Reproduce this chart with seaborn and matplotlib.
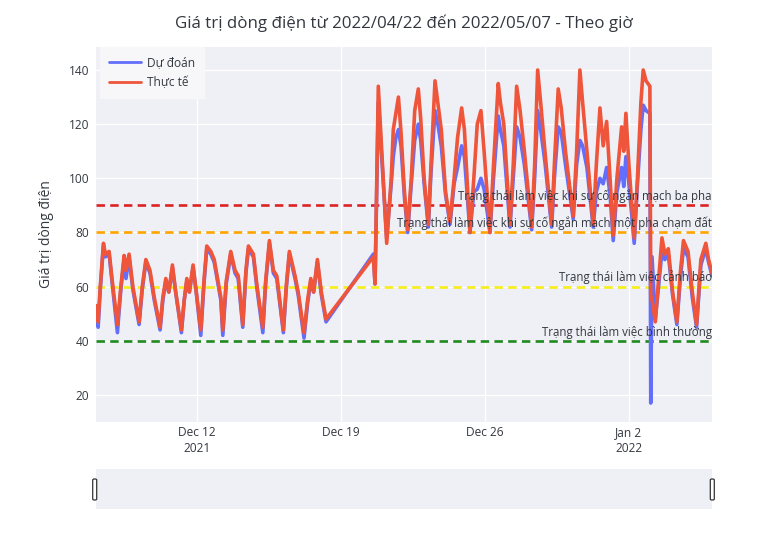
import numpy as np
import pandas as pd
import matplotlib
matplotlib.use("Agg")
import matplotlib.pyplot as plt
import matplotlib.dates as mdates
from matplotlib.patches import FancyBboxPatch
import seaborn as sns

# ---------------- data ----------------
start_time = "2021-12-07 00:00"
hours = [2, 4.5, 7, 10.7, 13, 17.3, 21, 27, 31, 34.8, 37, 40.6, 45, 52.3, 56, 60.2, 65, 70, 76.8, 80,
         83.5, 87, 91.2, 95, 101.7, 105, 108, 111, 115.3, 119, 124.3, 128, 131.3, 136, 140, 147.7, 150, 154,
         159.3, 164.3, 168, 173.3, 177, 179.9, 185.7, 190, 196.7, 200, 204.4, 209, 213, 220.7, 224, 227.7,
         234.3, 238, 244.8, 249, 252.7, 256, 260.4, 265, 270.5, 325.7, 327.7, 331.5, 341.3, 346.6, 349, 352,
         355, 358, 362, 365.8, 370, 374, 378.2, 381, 385, 389.9, 393, 397.7, 401, 405, 410, 415.2, 420, 424,
         428.8, 432, 438.5, 443, 447, 451.3, 455, 461.8, 466, 471.5, 474, 478, 485.2, 489, 493, 497, 502,
         510.5, 514, 517.5, 521, 526, 533.8, 537, 541.5, 545, 550, 559, 563, 566.8, 570, 575, 582.3, 586,
         590.2, 594, 598, 602, 605.7, 610, 615.5, 618, 620.5, 624, 630.2, 634, 638, 640.7, 644, 648.5, 649.5,
         651, 654.8, 658, 662.6, 666, 670, 675, 680, 684, 687.7, 693, 698, 703, 708, 713.8, 717, 721]
actual = [53, 47, 60, 76, 72, 73, 62, 46, 60, 71.5, 66, 72, 60, 47, 60, 70, 66, 56, 45, 56,
          63, 58, 68, 58, 44, 55, 63, 58, 68, 58, 44, 62, 75, 73, 70, 56, 44, 62,
          73, 66, 64, 46, 66, 75, 72, 60, 45, 62, 77, 66, 64, 44, 60, 73,
          64, 58, 43, 55, 63, 58, 70, 58, 48, 71, 61, 134, 76, 100, 118, 124,
          130, 117, 95, 81, 100, 125, 133, 122, 100, 83, 105, 136, 128, 118, 95, 84, 100, 115,
          126, 118, 80, 100, 120, 125, 110, 80, 105, 135, 128, 120, 83, 105, 134, 125, 110,
          82, 105, 140, 128, 110, 83, 105, 133, 126, 110, 86, 110, 140, 128, 110, 83, 105,
          126, 112, 121, 100, 79, 100, 119, 110, 124, 105, 78, 100, 128, 140, 136, 134, 57,
          55, 47, 60, 78, 72, 74, 58, 47, 65, 77, 73, 58, 46, 70, 76, 70, 65]
predicted = [52, 45, 59, 75, 71, 72, 61, 43, 59, 70, 63, 71, 59, 46, 59, 69, 65, 55, 44, 55,
             62, 58, 67, 58, 43, 55, 62, 58, 67, 58, 42, 61, 74, 72, 69, 55, 42, 61,
             72, 65, 63, 45, 65, 74, 71, 59, 43, 61, 76, 65, 63, 43, 59, 72,
             63, 57, 41, 54, 62, 58, 69, 57, 47, 72, 61, 128, 78, 98, 108, 115,
             118, 112, 93, 80, 98, 114, 120, 114, 98, 82, 102, 125, 120, 112, 94, 83, 98, 104,
             112, 108, 80, 95, 96, 100, 96, 80, 100, 123, 118, 112, 82, 100, 119, 115, 105,
             81, 100, 125, 118, 106, 82, 100, 119, 117, 105, 85, 105, 114, 112, 104, 82, 95,
             100, 98, 104, 94, 77, 95, 104, 97, 108, 98, 76, 98, 118, 127, 125, 124, 17,
             71, 48, 58, 73, 70, 72, 57, 46, 63, 74, 71, 56, 45, 68, 74, 69, 64]

series_names = ["Dự đoán", "Thực tế"]
series_colors = ["#636EFA", "#EF553B"]

threshold_values = [90, 80, 60, 40]
threshold_colors = ["#dc2323", "#FFA500", "#f6ee1a", "#1f8a1f"]
threshold_labels = ["Trạng thái làm việc khi sự cố ngắn mạch ba pha",
                    "Trạng thái làm việc khi sự cố ngắn mạch một pha chạm đất",
                    "Trạng thái làm việc cảnh báo",
                    "Trạng thái làm việc bình thường"]

title = "Giá trị dòng điện từ 2022/04/22 đến 2022/05/07 - Theo giờ"
y_label = "Giá trị dòng điện"
x_tick_dates = ["2021-12-12", "2021-12-19", "2021-12-26", "2022-01-02"]
x_tick_labels = ["Dec 12\n2021", "Dec 19", "Dec 26", "Jan 2\n2022"]
y_ticks = [20, 40, 60, 80, 100, 120, 140]

# ---------------- build frame ----------------
times = pd.Timestamp(start_time) + pd.to_timedelta(hours, unit="h")
df = pd.concat([
    pd.DataFrame({"time": times, "value": predicted, "series": series_names[0]}),
    pd.DataFrame({"time": times, "value": actual, "series": series_names[1]}),
], ignore_index=True)

# ---------------- style ----------------
BG = "#EFF0F5"
TXT = "#333840"
sns.set_theme(style="darkgrid", rc={
    "axes.facecolor": BG,
    "grid.color": "white",
    "grid.linewidth": 1.0,
    "axes.edgecolor": BG,
})
plt.rcParams["font.family"] = ["Open Sans", "DejaVu Sans"]
plt.rcParams["text.color"] = TXT
plt.rcParams["xtick.color"] = TXT
plt.rcParams["ytick.color"] = TXT
plt.rcParams["axes.labelcolor"] = TXT

W, H = 771, 546
fig = plt.figure(figsize=(W / 100, H / 100), dpi=100)
fig.patch.set_facecolor("white")

L, R, T, B = 96, 712, 47, 422
ax = fig.add_axes([L / W, 1 - B / H, (R - L) / W, (B - T) / H])

sns.lineplot(data=df, x="time", y="value", hue="series", hue_order=series_names,
             palette=dict(zip(series_names, series_colors)), linewidth=2.6,
             ax=ax, estimator=None, sort=False, legend=True)

for v, c, lab in zip(threshold_values, threshold_colors, threshold_labels):
    ax.axhline(v, color=c, linewidth=1.9, dashes=(3.2, 2.0), zorder=1.5)
    ax.annotate(lab, xy=(1.0, v), xycoords=ax.get_yaxis_transform(),
                xytext=(0, 1.6), textcoords="offset points",
                ha="right", va="bottom", fontsize=8.3, color=TXT, zorder=5)

ax.set_xlim(times[0], times[-1])
ax.set_ylim(10, 148.5)
ax.set_yticks(y_ticks)
ax.set_xticks(pd.to_datetime(x_tick_dates))
ax.set_xticklabels(x_tick_labels, fontsize=8.6, linespacing=1.25)
ax.tick_params(axis="both", length=0, labelsize=8.6)
ax.tick_params(axis="x", pad=3)
ax.tick_params(axis="y", pad=5)
ax.set_xlabel("")
ax.set_ylabel(y_label, fontsize=10)
ax.yaxis.set_label_coords(-0.068, 0.5)
for s in ax.spines.values():
    s.set_visible(False)
ax.grid(True, color="white", linewidth=1.0)

leg = ax.legend(loc="upper left", bbox_to_anchor=(0.006, 1.0), frameon=True, fontsize=8.6,
                handlelength=2.7, handletextpad=0.5, borderpad=0.75, labelspacing=0.6,
                borderaxespad=0.0, fancybox=False)
leg.get_frame().set_facecolor("#F7F7FA")
leg.get_frame().set_edgecolor("#F7F7FA")
leg.get_frame().set_alpha(1)
for line in leg.get_lines():
    line.set_linewidth(2.0)

fig.text((L + R) / 2 / W, 1 - 23 / H, title, ha="center", va="center", fontsize=12.2, color=TXT)

# range slider
sl = fig.add_axes([L / W, 1 - 509 / H, (R - L) / W, 40 / H])
sl.set_facecolor(BG)
sl.set_xticks([])
sl.set_yticks([])
sl.grid(False)
for s in sl.spines.values():
    s.set_visible(False)
for hx in (L - 3.3, R - 1.7):
    p = FancyBboxPatch((hx / W, 1 - 500 / H), 4.0 / W, 21 / H,
                       boxstyle="round,pad=0,rounding_size=0.002",
                       transform=fig.transFigure, facecolor="white", edgecolor="#333333",
                       linewidth=0.9, zorder=10)
    fig.patches.append(p)

fig.savefig("out.png", dpi=100, facecolor="white")
